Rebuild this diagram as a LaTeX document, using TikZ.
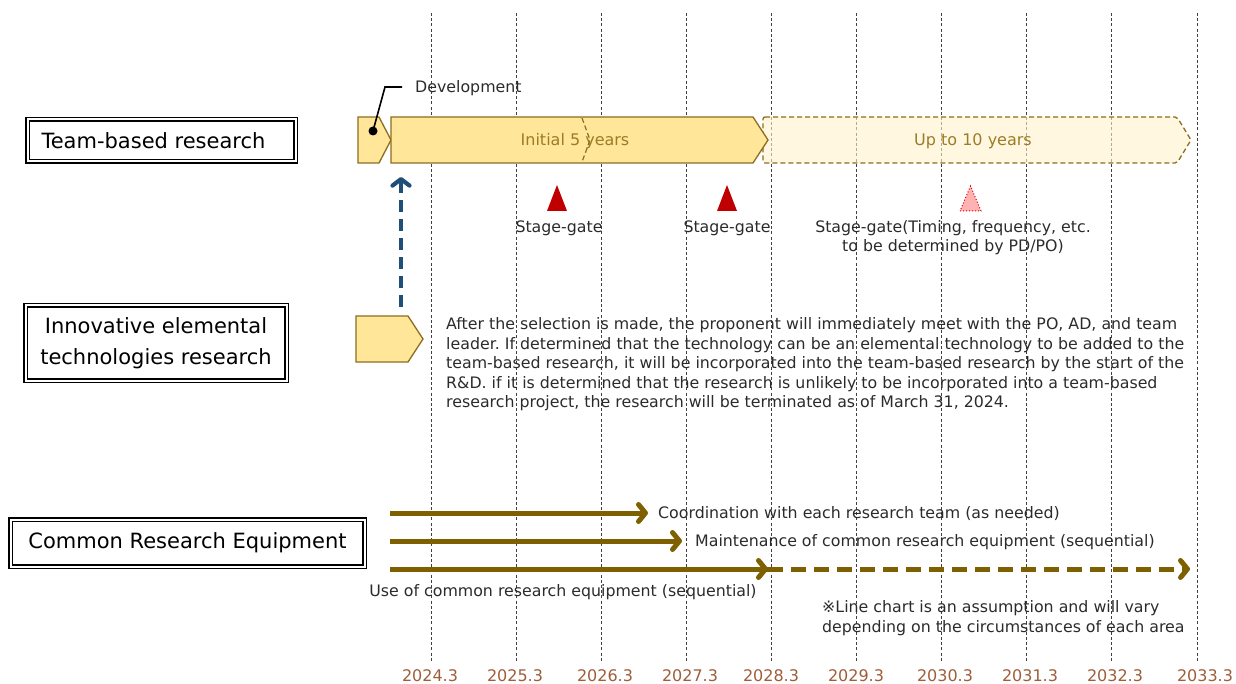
\documentclass[tikz,border=0pt]{standalone}
\usepackage{fontspec}
\setmainfont{DejaVu Sans}
\usetikzlibrary{arrows.meta}
\frenchspacing
\newcommand{\setfs}[2]{\fontsize{#1pt}{#2pt}\selectfont}
\definecolor{gold}{HTML}{7F6000}
\definecolor{barfill}{HTML}{FFE699}
\definecolor{barline}{HTML}{8C6D1F}
\definecolor{bartext}{HTML}{9C7C26}
\definecolor{lightfill}{HTML}{FFF2CC}
\definecolor{stred}{HTML}{C00000}
\definecolor{navy}{HTML}{1F4E79}
\definecolor{yearc}{HTML}{9E5E3A}
\definecolor{txt}{HTML}{2B2B2B}
\definecolor{gridc}{HTML}{404040}
\begin{document}
\begin{tikzpicture}[x=1pt,y=-1pt,
  vline/.style={draw=gridc, line width=0.8pt, dash pattern=on 3pt off 2.2pt},
  dbox/.style={draw=black, double=white, double distance=2pt, line width=1.2pt, fill=white, inner sep=0pt, align=center, font=\setfs{21}{31}, text=black},
  bar/.style={draw=barline, fill=barfill, line width=1.3pt, line join=miter},
  lightbar/.style={draw=barline, fill=lightfill, fill opacity=0.6, line width=1.3pt, dash pattern=on 5pt off 3pt, rounded corners=2pt},
  bartxt/.style={font=\setfs{16}{19}, text=bartext, inner sep=0pt},
  lbl/.style={font=\setfs{15.8}{19}, text=txt, inner sep=0pt},
  year/.style={font=\setfs{16}{19}, text=yearc, inner sep=0pt},
  garrow/.style={draw=gold, line width=5pt, -{Straight Barb[length=7pt,width=17pt,round]}},
  stagetri/.style={fill=stred, draw=none},
]
\useasboundingbox (0,0) rectangle (1236,684);

% grid lines and years
\foreach \i in {0,...,9} {
  \draw[vline] ({431+85.1*\i},13) -- ({431+85.1*\i},662);
}
\foreach \x/\t [count=\i] in {430/2024.3,515/2025.3,605/2026.3,690/2027.3,771/2028.3,856/2029.3,945/2030.3,1030/2031.3,1115/2032.3,1205/2033.3}
  \node[year] (yr\i) at (\x,676) {\t};

% left category boxes
\node[dbox, minimum width=268pt, minimum height=42pt] (team) at (161.5,140.5) {Team-based research\hspace*{16pt}};
\node[dbox, minimum width=261pt, minimum height=75pt] (innov) at (156,343) {Innovative elemental\\technologies research};
\node[dbox, minimum width=354pt, minimum height=47pt] (common) at (187.5,543) {Common Research Equipment};

% team-based bars
\draw[lightbar] (763,117) -- (1177,117) -- (1191,140) -- (1177,163) -- (763,163) -- cycle;
\node[bartxt] (upto) at (973,141) {Up to 10 years};
\draw[bar] (358,117) -- (379,117) -- (391,140) -- (379,163) -- (358,163) -- cycle;
\draw[bar] (391,117) -- (753,117) -- (768,140) -- (753,163) -- (391,163) -- cycle;
\draw[draw=barline, line width=1.2pt, dash pattern=on 5pt off 3pt] (582,118) -- (590,140) -- (582,162);
\node[bartxt] (init) at (575,141) {Initial 5 years};

% development callout
\fill[black] (373,131) circle (4.5pt);
\coordinate (devdot) at (373,131);
\coordinate (devbend) at (385,87);
\coordinate (devend) at (402,87);
\draw[black, line width=1.6pt] (devdot) -- (devbend) -- (devend);
\node[lbl, anchor=base west] (dev) at (415,92.5) {Development};

% stage gates
\fill[stagetri] (547,211) -- (567,211) -- (557,185) -- cycle;
\fill[stagetri] (717,211) -- (737,211) -- (727,185) -- cycle;
\draw[fill=red!30, draw=red!85!black, line width=1pt, dotted] (960,211) -- (981,211) -- (970.5,186) -- cycle;
\node[lbl, anchor=base] (sg1) at (559,232.5) {Stage-gate};
\node[lbl, anchor=base] (sg2) at (727,232.5) {Stage-gate};
\node[lbl, anchor=base] (sg3) at (953,232.5) {Stage-gate(Timing, frequency, etc.};
\node[lbl, anchor=base] (sg3b) at (953,251.5) {to be determined by PD/PO)};

% innovative pentagon and arrow
\draw[bar] (356,316) -- (408,316) -- (423,339) -- (408,362) -- (356,362) -- cycle;
\coordinate (blueS) at (401,307);
\coordinate (blueE) at (401,177);
\draw[navy, line width=4.2pt, dash pattern=on 12pt off 7pt, -{Straight Barb[length=6.5pt,width=17pt,round]}] (blueS) -- (blueE);

% paragraph
\node[lbl, anchor=base west] (p1) at (446,329.5) {After the selection is made, the proponent will immediately meet with the PO, AD, and team};
\node[lbl, anchor=base west] (p2) at (446,349) {leader. If determined that the technology can be an elemental technology to be added to the};
\node[lbl, anchor=base west] (p3) at (446,368.5) {team-based research, it will be incorporated into the team-based research by the start of the};
\node[lbl, anchor=base west] (p4) at (446,388) {R\&D. if it is determined that the research is unlikely to be incorporated into a team-based};
\node[lbl, anchor=base west] (p5) at (446,407.5) {research project, the research will be terminated as of March 31, 2024.};

% common research equipment arrows
\coordinate (a1s) at (390,513);
\coordinate (a1e) at (648,513);
\coordinate (a2s) at (390,541);
\coordinate (a2e) at (682,541);
\coordinate (a3s) at (390,569);
\coordinate (a3m) at (768,569);
\coordinate (a3e) at (1190,569);
\draw[gold, line width=5pt] (a3m) -- ++(-3,0);
\draw[garrow, dash pattern=on 15pt off 8pt] (a3m) -- (a3e);
\draw[garrow] (a1s) -- (a1e);
\draw[garrow] (a2s) -- (a2e);
\draw[garrow] (a3s) -- (a3m);
\node[lbl, anchor=base west] (t1) at (658,518.5) {Coordination with each research team (as needed)};
\node[lbl, anchor=base west] (t2) at (695,546.5) {Maintenance of common research equipment (sequential)};
\node[lbl, anchor=base] (t3) at (563,596.5) {Use of common research equipment (sequential)};
\node[lbl, anchor=base west] (n1) at (822,612.5) {※Line chart is an assumption and will vary};
\node[lbl, anchor=base west] (n2) at (822,632.5) {depending on the circumstances of each area};
\end{tikzpicture}
\end{document}
